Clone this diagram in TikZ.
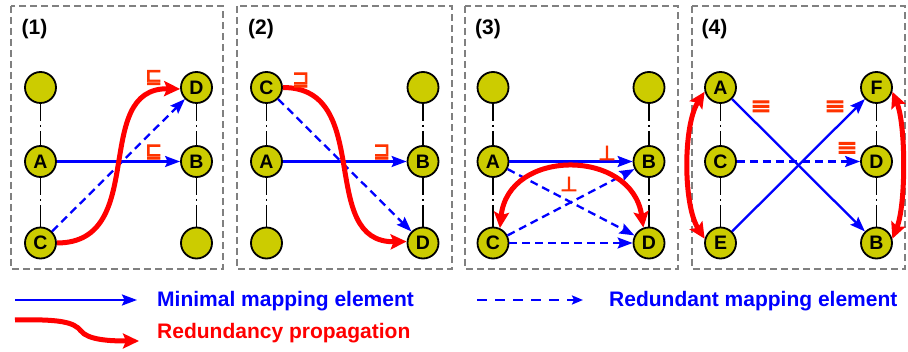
\documentclass[tikz,border=0pt]{standalone}
\usepackage{fontspec}
\setmainfont{Liberation Sans}
\newfontfamily\symfont[FakeBold=4]{DejaVu Sans}
\usetikzlibrary{arrows.meta}
\definecolor{nodefill}{RGB}{204,204,0}
\definecolor{symred}{RGB}{255,51,0}
\definecolor{boxgray}{RGB}{128,128,128}
\begin{document}
\begin{tikzpicture}[x=1pt,y=-1pt,
  vnode/.style={circle,draw=black,line width=1.8pt,fill=nodefill,minimum size=31pt,inner sep=0pt,font=\bfseries\fontsize{19.5}{19.5}\selectfont},
  panelbox/.style={draw=boxgray,line width=1.6pt,dash pattern=on 7pt off 4pt},
  chainline/.style={black,line width=1.8pt,dash pattern=on 17pt off 4pt on 2pt off 4pt on 40pt},
  minimal/.style={blue,line width=2.3pt,-{Stealth[length=15pt,width=11pt,inset=2.5pt]}},
  redundant/.style={minimal,dash pattern=on 8pt off 5pt},
  propag/.style={red,line width=5pt,-{Stealth[length=16pt,width=15pt,inset=3pt]}},
  propagboth/.style={red,line width=5pt,{Stealth[length=16pt,width=15pt,inset=3pt]}-{Stealth[length=16pt,width=15pt,inset=3pt]}},
  rel/.style={text=symred,font=\symfont\fontsize{20}{20}\selectfont,inner sep=0pt},
  releq/.style={rel,font=\symfont\fontsize{25}{25}\selectfont},
  plabel/.style={anchor=base west,inner sep=0pt,font=\bfseries\fontsize{21}{21}\selectfont},
  legtext/.style={anchor=base west,inner sep=0pt,font=\bfseries\fontsize{21}{21}\selectfont}
]
\useasboundingbox (0,0) rectangle (908,352);

% panel boxes
\draw[panelbox] (11,6) rectangle (223,269);
\draw[panelbox] (237,6) rectangle (452,269);
\draw[panelbox] (465,6) rectangle (678,269);
\draw[panelbox] (692,6) rectangle (905,269);
\node[plabel] (lab1) at (21.5,35) {(1)};
\node[plabel] (lab2) at (248,35) {(2)};
\node[plabel] (lab3) at (475,35) {(3)};
\node[plabel] (lab4) at (701.5,35) {(4)};

% panel 1
\node[vnode] (p1l1) at (40.5,87.5) {};
\node[vnode] (p1A) at (40.5,161.5) {A};
\node[vnode] (p1C) at (40.5,243) {C};
\node[vnode] (p1D) at (196.5,87.5) {D};
\node[vnode] (p1B) at (196.5,161.5) {B};
\node[vnode] (p1r3) at (196.5,243) {};
\draw[chainline] (p1l1) -- (p1A);
\draw[chainline] (p1A) -- (p1C);
\draw[chainline] (p1D) -- (p1B);
\draw[chainline] (p1B) -- (p1r3);
\draw[redundant] (p1C) -- (p1D);
\draw[minimal] (p1A) -- (p1B);
\draw[propag] (p1C.east) .. controls (150,243) and (90,87.5) .. (p1D.185);
\node[rel] (s1a) at (153.7,77.5) {⊑};
\node[rel] (s1b) at (153.7,152) {⊑};

% panel 2
\node[vnode] (p2C) at (266.5,87.5) {C};
\node[vnode] (p2A) at (266.5,161.5) {A};
\node[vnode] (p2l3) at (266.5,243) {};
\node[vnode] (p2r1) at (423,87.5) {};
\node[vnode] (p2B) at (423,161.5) {B};
\node[vnode] (p2D) at (423,243) {D};
\draw[chainline] (p2C) -- (p2A);
\draw[chainline] (p2A) -- (p2l3);
\draw[chainline] (p2r1) -- (p2B);
\draw[chainline] (p2B) -- (p2D);
\draw[redundant] (p2C) -- (p2D);
\draw[minimal] (p2A) -- (p2B);
\draw[propag] (p2C.east) .. controls (375,87.5) and (316,243) .. (p2D.175);
\node[rel] (s2a) at (300.7,80) {⊒};
\node[rel] (s2b) at (381.7,152) {⊒};

% panel 3
\node[vnode] (p3l1) at (493,87.5) {};
\node[vnode] (p3A) at (493,161.5) {A};
\node[vnode] (p3C) at (493,243) {C};
\node[vnode] (p3r1) at (649,87.5) {};
\node[vnode] (p3B) at (649,161.5) {B};
\node[vnode] (p3D) at (649,243) {D};
\draw[chainline] (p3l1) -- (p3A);
\draw[chainline] (p3A) -- (p3C);
\draw[chainline] (p3r1) -- (p3B);
\draw[chainline] (p3B) -- (p3D);
\draw[minimal] (p3A) -- (p3B);
\draw[redundant] (p3A) -- (p3D);
\draw[redundant] (p3C) -- (p3B);
\draw[redundant] (p3C) -- (p3D);
\draw[propagboth] (p3C.65) .. controls (508,148) and (632,148) .. (p3D.110);
\node[rel] (s3a) at (607,153) {⊥};
\node[rel] (s3b) at (569,184) {⊥};

% panel 4
\node[vnode] (p4A) at (720.5,87.5) {A};
\node[vnode] (p4C) at (720.5,161.5) {C};
\node[vnode] (p4E) at (720.5,243) {E};
\node[vnode] (p4F) at (876.5,87.5) {F};
\node[vnode] (p4D) at (876.5,161.5) {D};
\node[vnode] (p4B) at (876.5,243) {B};
\draw[chainline] (p4A) -- (p4C);
\draw[chainline] (p4C) -- (p4E);
\draw[chainline] (p4F) -- (p4D);
\draw[chainline] (p4D) -- (p4B);
\draw[minimal] (p4A) -- (p4B);
\draw[minimal] (p4E) -- (p4F);
\draw[redundant] (p4C) -- (p4D);
\draw[propagboth] (p4A.195) .. controls (683,125) and (683,205) .. (p4E.165);
\draw[propagboth] (p4F.345) .. controls (906,125) and (906,205) .. (p4B.15);
\node[releq] (s4a) at (761,107.5) {≡};
\node[releq] (s4b) at (835,107.5) {≡};
\node[releq] (s4c) at (847,149) {≡};

% legend
\coordinate (ls1) at (15,300);
\coordinate (ls2) at (137,300);
\draw[minimal] (ls1) -- (ls2);
\node[legtext,text=blue] (lt1) at (157,306.5) {Minimal mapping element};
\coordinate (ld1) at (477,300);
\coordinate (ld2) at (583,300);
\draw[blue,line width=2.3pt,dash pattern=on 10pt off 8pt,-{Stealth[length=11pt,width=9pt,inset=2pt]}] (ld1) -- (ld2);
\node[legtext,text=blue] (lt2) at (609,306.5) {Redundant mapping element};
\coordinate (lr1) at (15,320);
\coordinate (lr2) at (139,341);
\draw[propag] (lr1) .. controls (60,319) and (74,322) .. (81,331) .. controls (88,340) and (110,341) .. (lr2);
\node[legtext,text=red] (lt3) at (157,338.3) {Redundancy propagation};
\end{tikzpicture}
\end{document}
